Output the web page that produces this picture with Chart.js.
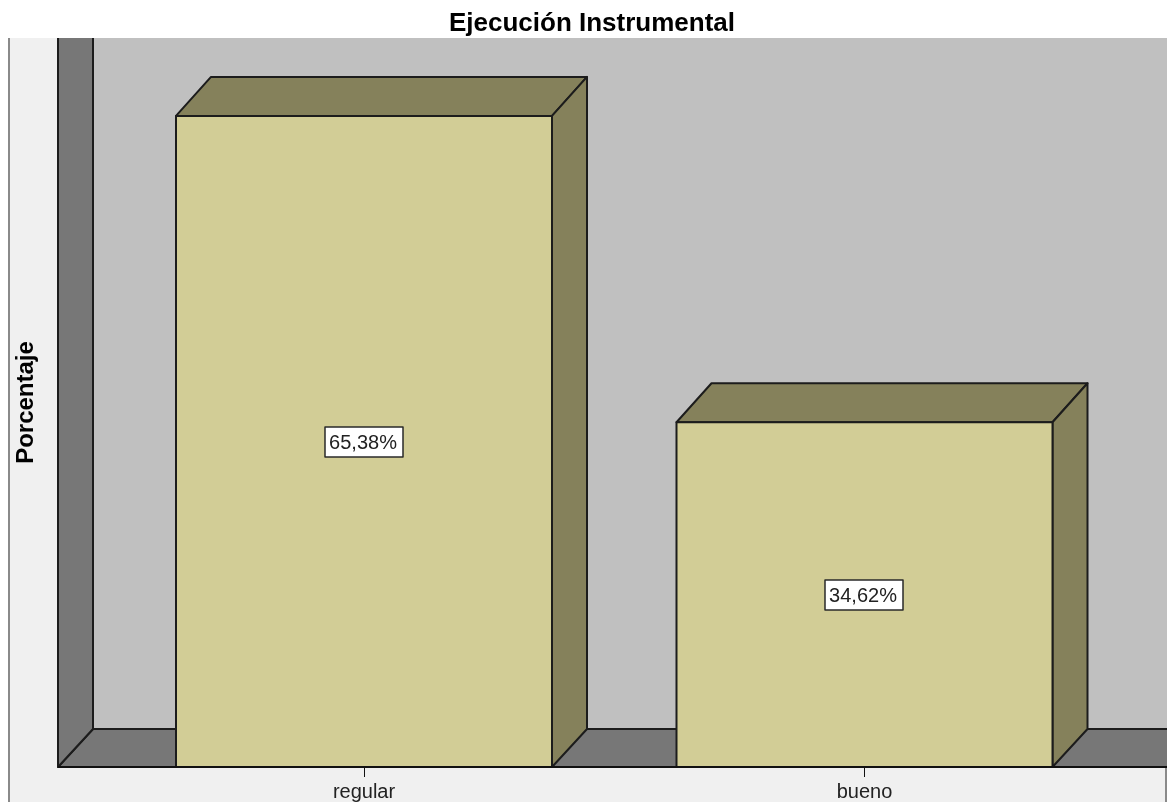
<!DOCTYPE html>
<html><head><meta charset="utf-8">
<style>html,body{margin:0;padding:0;background:#fff;overflow:hidden}canvas{display:block}</style>
<script src="https://cdn.jsdelivr.net/npm/chart.js@4"></script></head>
<body><canvas id="c" width="1167" height="802"></canvas>
<script>
const chartTitle = 'Ejecución Instrumental';
const yTitle = 'Porcentaje';
const categories = ['regular', 'bueno'];
const percentages = [65.38, 34.62];
const percentLabels = ['65,38%', '34,62%'];
const positions = [0, 1];

const DEPTH_X = 35, DEPTH_Y = 38;
const INK = '#1c1c1c';
function poly(ctx, pts, fill) {
  ctx.beginPath();
  pts.forEach((p, i) => i ? ctx.lineTo(p[0], p[1]) : ctx.moveTo(p[0], p[1]));
  ctx.closePath();
  ctx.fillStyle = fill; ctx.fill();
  ctx.strokeStyle = INK; ctx.lineWidth = 2; ctx.lineJoin = 'round'; ctx.stroke();
}
const scene = {
  id: 'scene',
  afterLayout(chart) { chart.titleBlock.left += 17; },
  beforeDraw(chart) {
    const { ctx, chartArea: a } = chart;
    ctx.save();
    ctx.fillStyle = '#fff'; ctx.fillRect(0, 0, 1167, 802);
    ctx.fillStyle = '#f0f0f0'; ctx.fillRect(9, a.top, 1158, 802 - a.top);
    ctx.fillStyle = '#8a8a8a'; ctx.fillRect(8, a.top, 2, 802 - a.top);
    ctx.fillStyle = '#8a8a8a'; ctx.fillRect(1165, a.bottom, 2, 802 - a.bottom);
    ctx.fillStyle = '#c0c0c0'; ctx.fillRect(a.left, a.top, a.right - a.left, a.bottom - a.top);
    ctx.beginPath(); ctx.rect(a.left - 2, a.top, a.right - a.left + 2, a.bottom - a.top + 2); ctx.clip();
    poly(ctx, [[a.left + DEPTH_X, a.bottom - DEPTH_Y], [a.right + 10, a.bottom - DEPTH_Y], [a.right + 10, a.bottom], [a.left, a.bottom]], '#777777');
    poly(ctx, [[a.left, a.top - 10], [a.left + DEPTH_X, a.top - 10], [a.left + DEPTH_X, a.bottom - DEPTH_Y], [a.left, a.bottom]], '#777777');
    ctx.restore();
  },
  afterDatasetsDraw(chart) {
    const { ctx, chartArea: a } = chart;
    const bars = chart.getDatasetMeta(0).data;
    ctx.save();
    bars.forEach((b) => {
      const l = b.x - b.width / 2, r = b.x + b.width / 2, t = b.y, bt = b.base;
      poly(ctx, [[l, t], [l + DEPTH_X, t - DEPTH_Y - 1], [r + DEPTH_X, t - DEPTH_Y - 1], [r, t]], '#85815b');
      poly(ctx, [[r, t], [r + DEPTH_X, t - DEPTH_Y - 1], [r + DEPTH_X, bt - DEPTH_Y], [r, bt]], '#85815b');
      poly(ctx, [[l, t], [r, t], [r, bt], [l, bt]], '#d2cd96');
    });
    ctx.strokeStyle = '#111'; ctx.lineWidth = 2;
    ctx.beginPath(); ctx.moveTo(a.left, a.bottom); ctx.lineTo(a.right, a.bottom); ctx.stroke();
    ctx.font = '20px "Liberation Sans"';
    ctx.textAlign = 'center'; ctx.textBaseline = 'middle';
    bars.forEach((b, i) => {
      const cy = (b.y + b.base) / 2 + 0.5;
      const w = 78, h = 30, x = Math.round(b.x - w / 2), y = Math.round(cy - h / 2);
      ctx.fillStyle = '#fff'; ctx.fillRect(x, y, w, h);
      ctx.strokeStyle = '#2a2a2a'; ctx.lineWidth = 1.5; ctx.strokeRect(x, y, w, h);
      ctx.fillStyle = '#222'; ctx.fillText(percentLabels[i], x + w / 2 - 1, y + h / 2 + 1);
    });
    ctx.restore();
  }
};

new Chart(document.getElementById('c'), {
  type: 'bar',
  data: {
    datasets: [{
      data: positions.map((p, i) => ({ x: p, y: percentages[i] })),
      backgroundColor: '#d2cd96',
      barThickness: 376
    }]
  },
  plugins: [scene],
  options: {
    responsive: false, animation: false,
    layout: { padding: 0 },
    plugins: {
      legend: { display: false }, tooltip: { enabled: false },
      title: {
        display: true, text: chartTitle, color: '#000',
        font: { family: '"Liberation Sans"', size: 26, weight: 'bold', lineHeight: 28 / 26 },
        padding: { top: 10, bottom: 0 }, align: 'center'
      }
    },
    scales: {
      x: {
        type: 'linear', offset: false, min: -0.6114, max: 1.6044,
        afterBuildTicks(s) { s.ticks = positions.map(v => ({ value: v })); },
        afterFit(s) { s.height = 35; },
        grid: { offset: false, drawOnChartArea: false, drawTicks: true, tickLength: 10, color: '#111', lineWidth: 1 },
        border: { display: false },
        ticks: { autoSkip: false, maxRotation: 0, padding: 3, color: '#222', font: { family: '"Liberation Sans"', size: 20 },
                 callback: v => categories[v] ?? '' }
      },
      y: {
        min: 0, max: 73.2,
        afterFit(s) { s.width = 58; },
        grid: { display: false }, border: { display: false },
        ticks: { display: false },
        title: { display: true, text: yTitle, color: '#000', padding: { top: 12, bottom: 0 },
                 font: { family: '"Liberation Sans"', size: 24, weight: 'bold' } }
      }
    }
  }
});
</script></body></html>
